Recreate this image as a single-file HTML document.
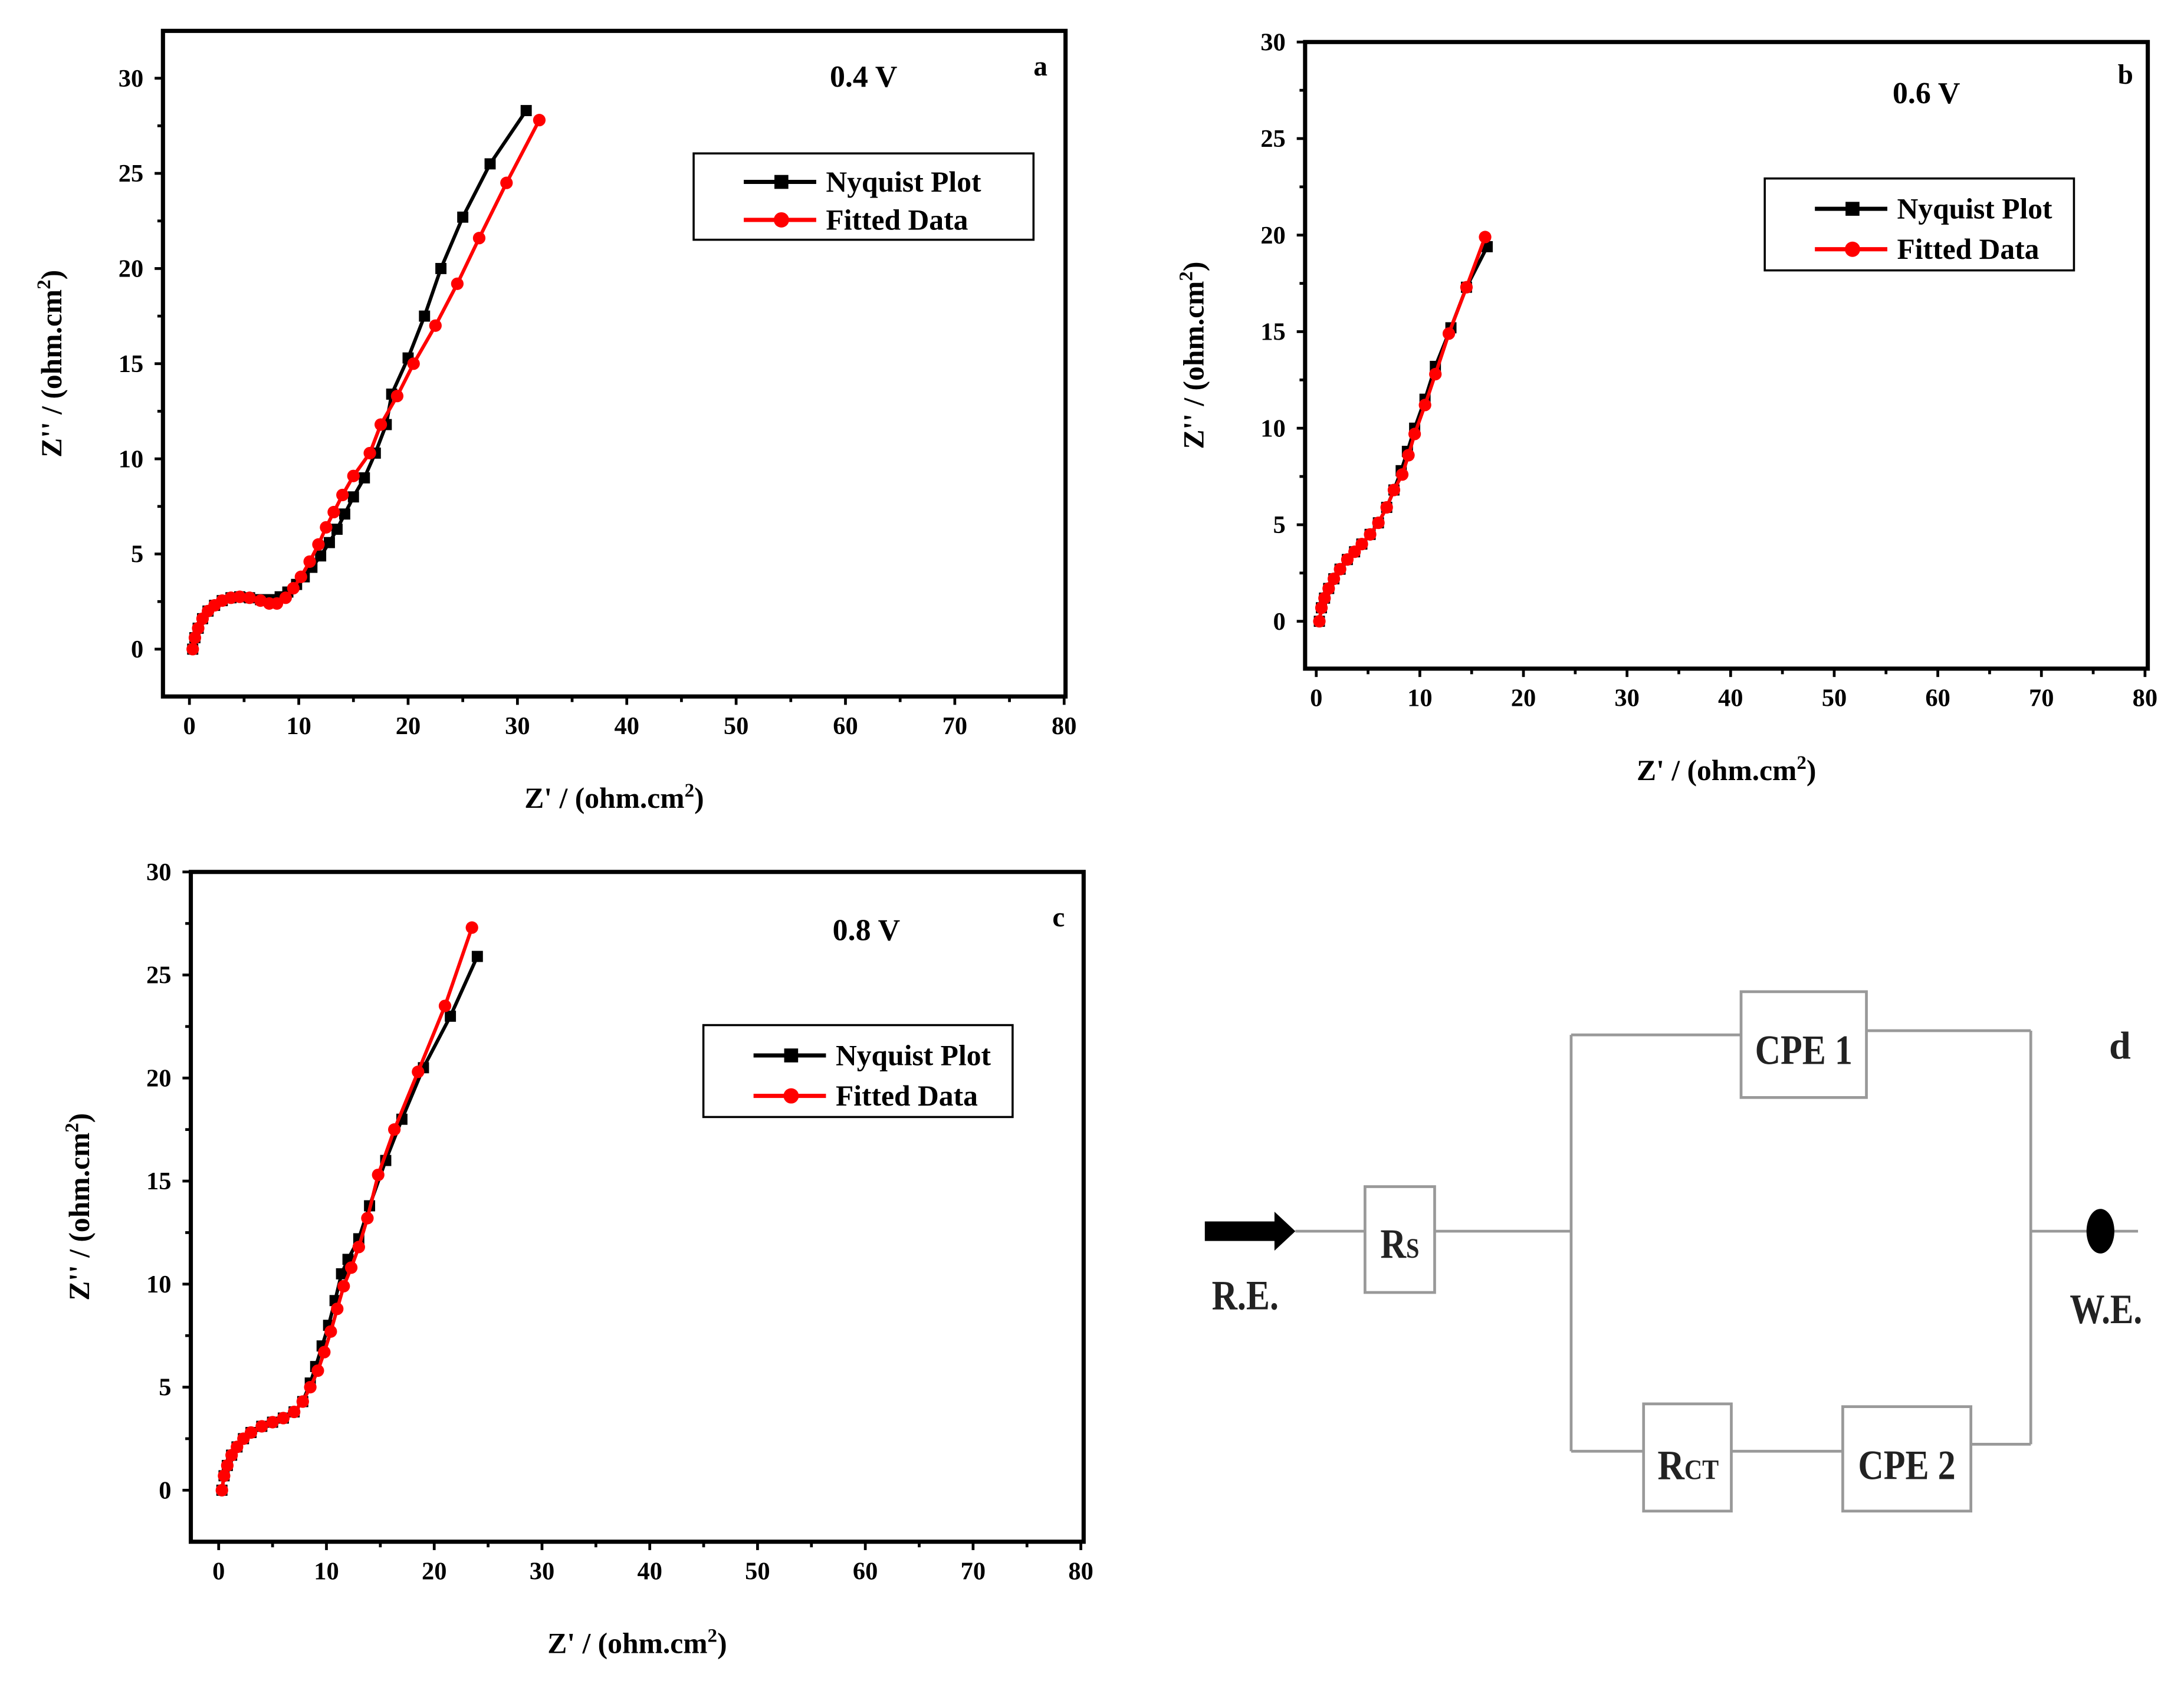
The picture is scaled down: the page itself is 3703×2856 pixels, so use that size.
<!DOCTYPE html>
<html><head><meta charset="utf-8">
<style>
html,body{margin:0;padding:0;background:#fff;}
svg{display:block;}
text{font-family:"Liberation Serif",serif;font-weight:bold;}
</style></head>
<body>
<svg id="fig" width="3703" height="2856" viewBox="0 0 1568 1209" xmlns="http://www.w3.org/2000/svg">
<rect width="1568" height="1209" fill="#fff"/>
<g id="circuit" stroke="#999" stroke-width="2" fill="none">
  <line x1="1030" y1="884" x2="1128" y2="884"/>
  <line x1="930" y1="884" x2="980" y2="884"/>
  <line x1="1128" y1="743" x2="1128" y2="1042"/>
  <line x1="1128" y1="743" x2="1250" y2="743"/>
  <line x1="1340" y1="740" x2="1458" y2="740"/>
  <line x1="1458" y1="740" x2="1458" y2="1037"/>
  <line x1="1128" y1="1042" x2="1180" y2="1042"/>
  <line x1="1243" y1="1042" x2="1323" y2="1042"/>
  <line x1="1415" y1="1037" x2="1458" y2="1037"/>
  <line x1="1458" y1="884" x2="1535" y2="884"/>
  <rect x="980" y="852" width="50" height="76"/>
  <rect x="1250" y="712" width="90" height="76"/>
  <rect x="1180" y="1008" width="63" height="77"/>
  <rect x="1323" y="1010" width="92" height="75"/>
</g>
<g fill="#222" font-size="30">
  <polygon points="865,877 915,877 915,870 930,884 915,898 915,891 865,891" fill="#000"/>
  <ellipse cx="1508" cy="884" rx="10" ry="16" fill="#000"/>
  <text x="870" y="940" textLength="48" lengthAdjust="spacingAndGlyphs">R.E.</text>
  <text x="1486" y="950" textLength="52" lengthAdjust="spacingAndGlyphs">W.E.</text>
  <text x="991" y="903" textLength="28" lengthAdjust="spacingAndGlyphs">R<tspan font-size="20">S</tspan></text>
  <text x="1260" y="764" textLength="70" lengthAdjust="spacingAndGlyphs">CPE 1</text>
  <text x="1190" y="1062" textLength="44" lengthAdjust="spacingAndGlyphs">R<tspan font-size="20">CT</tspan></text>
  <text x="1334" y="1062" textLength="70" lengthAdjust="spacingAndGlyphs">CPE 2</text>
  <text x="1522" y="760" text-anchor="middle" font-family="Liberation Sans, sans-serif" font-size="28">d</text>
</g>
</svg>
<script>
// Panel a data
const aBlackX=[0.3,0.5,0.8,1.2,1.7,2.3,3,3.8,4.6,5.5,6.5,7.5,8.3,9,9.8,10.5,11.2,12,12.8,13.5,14.2,15,16,17,18,18.5,20,21.5,23,25,27.5,30.8];
const aBlackY=[0,0.6,1.1,1.6,2,2.3,2.55,2.7,2.75,2.7,2.6,2.6,2.75,3,3.4,3.8,4.3,4.9,5.6,6.3,7.1,8,9,10.3,11.8,13.4,15.3,17.5,20,22.7,25.5,28.3];
const aRedX=[0.3,0.5,0.8,1.2,1.7,2.3,3,3.8,4.6,5.5,6.5,7.3,8,8.8,9.5,10.2,11,11.8,12.5,13.2,14,15,16.5,17.5,19,20.5,22.5,24.5,26.5,29,32];
const aRedY=[0,0.6,1.1,1.6,2,2.3,2.55,2.7,2.75,2.7,2.55,2.4,2.4,2.7,3.2,3.8,4.6,5.5,6.4,7.2,8.1,9.1,10.3,11.8,13.3,15,17,19.2,21.6,24.5,27.8];
// Panel b data
const bBlackX=[0.3,0.5,0.8,1.2,1.7,2.3,3,3.7,4.4,5.2,6,6.8,7.5,8.2,8.8,9.5,10.5,11.5,13,14.5,16.5];
const bBlackY=[0,0.7,1.2,1.7,2.2,2.7,3.2,3.6,4,4.5,5.1,5.9,6.8,7.8,8.8,10,11.5,13.2,15.2,17.3,19.4];
const bRedX=[0.3,0.5,0.8,1.2,1.7,2.3,3,3.7,4.4,5.2,6,6.8,7.5,8.3,8.9,9.5,10.5,11.5,12.8,14.5,16.3];
const bRedY=[0,0.7,1.2,1.7,2.2,2.7,3.2,3.6,4,4.5,5.1,5.9,6.8,7.6,8.6,9.7,11.2,12.8,14.9,17.3,19.9];
// Panel c data
const cBlackX=[0.3,0.5,0.8,1.2,1.7,2.3,3,4,5,6,7,7.8,8.5,9,9.6,10.2,10.8,11.4,12,13,14,15.5,17,19,21.5,24];
const cBlackY=[0,0.7,1.2,1.7,2.1,2.5,2.8,3.1,3.3,3.5,3.8,4.3,5.2,6,7,8,9.2,10.5,11.2,12.2,13.8,16,18,20.5,23,25.9];
const cRedX=[0.3,0.5,0.8,1.2,1.7,2.3,3,4,5,6,7,7.8,8.5,9.2,9.8,10.4,11,11.6,12.3,13,13.8,14.8,16.3,18.5,21,23.5];
const cRedY=[0,0.7,1.2,1.7,2.1,2.5,2.8,3.1,3.3,3.5,3.8,4.3,5,5.8,6.7,7.7,8.8,9.9,10.8,11.8,13.2,15.3,17.5,20.3,23.5,27.3];
const xTicks=[0,10,20,30,40,50,60,70,80];
const yTicks=[0,5,10,15,20,25,30];

const NS="http://www.w3.org/2000/svg";
const svg=document.getElementById('fig');
function mk(tag,attrs,parent){const e=document.createElementNS(NS,tag);for(const k in attrs)e.setAttribute(k,attrs[k]);(parent||svg).appendChild(e);return e;}

function panel(p){
  const g=mk('g',{});
  
  
  const sx=v=>p.x0+(v)*(p.x80-p.x0)/80;
  const sy=v=>p.y0-(v)*(p.y0-p.y30)/30;
  const frame=mk('rect',{x:p.L,y:p.T,width:p.R-p.L,height:p.B-p.T,fill:'none',stroke:'#000','stroke-width':3},g);
  
  
  for(let v=0;v<=80;v+=5){
    const x=sx(v);
    const t=mk('line',{x1:x,y1:p.B,x2:x,y2:p.B+(v%10==0?6:4),stroke:'#000','stroke-width':2},g);
    
    
  }
  xTicks.forEach(v=>{
    const t=mk('text',{x:sx(v),y:p.B+27,'text-anchor':'middle','font-size':18},g);
    
    
    t.textContent=v;
  });
  for(let v=0;v<=30;v+=2.5){
    const y=sy(v);
    if(y<p.T-1)continue;
    const t=mk('line',{x1:p.L,y1:y,x2:p.L-(v%5==0?6:4),y2:y,stroke:'#000','stroke-width':2},g);
    
    
  }
  yTicks.forEach(v=>{
    const t=mk('text',{x:p.L-14,y:sy(v)+6,'text-anchor':'end','font-size':18},g);
    
    
    t.textContent=v;
  });
  const xt=mk('text',{x:(p.L+p.R)/2,y:p.B+80,'text-anchor':'middle','font-size':21},g);
  
  
  xt.innerHTML="Z' / (ohm.cm<tspan dy='-8' font-size='14'>2</tspan><tspan dy='8'>)</tspan>";
  const yt=mk('text',{x:0,y:0,'text-anchor':'middle','font-size':21,transform:`translate(${p.L-73},${(p.T+p.B)/2}) rotate(-90)`},g);
  
  
  yt.innerHTML="Z'' / (ohm.cm<tspan dy='-8' font-size='14'>2</tspan><tspan dy='8'>)</tspan>";
  const ttl=mk('text',{x:p.tx,y:p.ty,'text-anchor':'middle','font-size':22,'font-family':'Liberation Sans, sans-serif'},g);
  
  
  ttl.textContent=p.title;
  const lt=mk('text',{x:p.lx,y:p.ly,'text-anchor':'middle','font-size':20},g);
  
  
  lt.textContent=p.id;
  [[p.bx,p.by,'#000','sq'],[p.rx,p.ry,'#f00','ci']].forEach(([xs,ys,c,m])=>{
    const n=Math.min(xs.length,ys.length);
    const pts=[];for(let i=0;i<n;i++)pts.push(sx(xs[i])+','+sy(ys[i]));
    const pl=mk('polyline',{points:pts.join(' '),fill:'none',stroke:c,'stroke-width':2.5},g);
    
    
    for(let i=0;i<n;i++){
      let e;
      if(m=='sq')e=mk('rect',{x:sx(xs[i])-4,y:sy(ys[i])-4,width:8,height:8,fill:c},g);
      else e=mk('circle',{cx:sx(xs[i]),cy:sy(ys[i]),r:4.5,fill:c},g);
      
      
    }
  });
  const lg=mk('g',{},g);
  
  
  mk('rect',{x:p.gx,y:p.gy,width:p.gw,height:p.gh,fill:'#fff',stroke:'#000','stroke-width':1.5},lg);
  const r1=p.gy+p.gh*0.33, r2=p.gy+p.gh*0.77;
  mk('line',{x1:p.gx+36,y1:r1,x2:p.gx+88,y2:r1,stroke:'#000','stroke-width':3},lg);
  mk('rect',{x:p.gx+58,y:r1-5,width:10,height:10,fill:'#000'},lg);
  mk('line',{x1:p.gx+36,y1:r2,x2:p.gx+88,y2:r2,stroke:'#f00','stroke-width':3},lg);
  mk('circle',{cx:p.gx+63,cy:r2,r:5.5,fill:'#f00'},lg);
  const e1=mk('text',{x:p.gx+95,y:r1+7,'font-size':21},lg);
  
  
  e1.textContent='Nyquist Plot';
  const e2=mk('text',{x:p.gx+95,y:r2+7,'font-size':21},lg);
  
  
  e2.textContent='Fitted Data';
}
panel({id:'a',L:117,R:765,T:22,B:500,x0:136,x80:764,y0:466,y30:56,bx:aBlackX,by:aBlackY,rx:aRedX,ry:aRedY,
  title:'0.4 V',tx:620,ty:62,lx:747,ly:54,gx:498,gy:110,gw:244,gh:62});
panel({id:'b',L:937,R:1542,T:30,B:480,x0:945,x80:1540,y0:446,y30:30,bx:bBlackX,by:bBlackY,rx:bRedX,ry:bRedY,
  title:'0.6 V',tx:1383,ty:74,lx:1526,ly:60,gx:1267,gy:128,gw:222,gh:66});
panel({id:'c',L:137,R:778,T:626,B:1107,x0:157,x80:776,y0:1070,y30:626,bx:cBlackX,by:cBlackY,rx:cRedX,ry:cRedY,
  title:'0.8 V',tx:622,ty:675,lx:760,ly:665,gx:505,gy:736,gw:222,gh:66});
</script>
</body></html>
